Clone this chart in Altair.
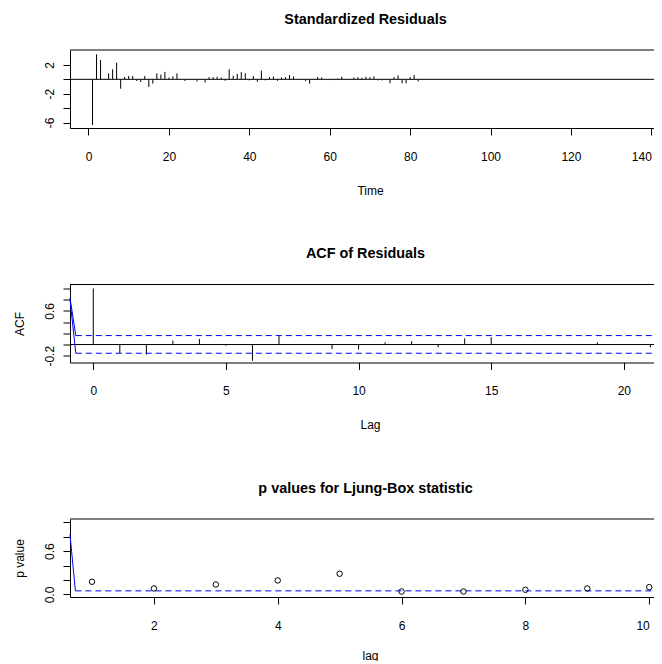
import altair as alt
import pandas as pd

FONT = "Liberation Sans"

# ---- data ----
time = list(range(1, 83))
resid = [-6.34, 3.47, 2.69, 0.05, 0.83, 1.39, 2.31, -1.30, 0.32, 0.46,
         0.46, -0.23, -0.37, 0.46, -1.06, -0.60, 0.83, 0.65, 1.02, 0.23,
         0.42, 0.83, 0.05, -0.23, 0.03, -0.05, -0.30, 0.04, -0.45, 0.30,
         0.30, 0.35, 0.25, -0.20, 1.40, 0.50, 0.75, 1.00, 0.85, -0.15,
         0.45, -0.35, 1.20, -0.15, 0.30, 0.40, -0.20, 0.25, 0.30, 0.60,
         0.40, 0.05, -0.05, -0.25, -0.60, 0.05, 0.30, 0.25, 0.02, -0.10,
         -0.10, 0.10, 0.35, 0.02, -0.03, 0.25, 0.30, 0.20, 0.35, 0.30,
         0.40, -0.15, -0.15, 0.03, -0.55, 0.30, 0.55, -0.55, -0.55, 0.30,
         0.60, -0.30]

acf_lag = list(range(0, 22))
acf_val = [1.0, -0.15, -0.18, 0.07, 0.10, -0.02, -0.29, 0.15, 0.005, -0.08,
           -0.09, 0.04, 0.06, -0.05, 0.11, 0.13, 0.003, 0.003, 0.01, 0.04,
           0.003, -0.05]
acf_ci = [0.16, -0.155]
acf_ci_start = -0.66
acf_stub_x = [-0.878, -0.66]
acf_stub_upper = [0.83, 0.16]
acf_stub_lower = [0.80, -0.155]

lb_lag = list(range(1, 11))
lb_p = [0.176, 0.083, 0.138, 0.194, 0.287, 0.041, 0.041, 0.065, 0.083, 0.101]
lb_level = [0.05]
lb_stub_x = [0.645, 0.732]
lb_stub_y = [0.83, 0.05]

# axes ticks / labels
x1_ticks = [0, 20, 40, 60, 80, 100, 120, 140]
y1_labeled = [-6, -2, 2]
y1_unlabeled = [-4, 0]
x2_ticks = [0, 5, 10, 15, 20]
y2_labeled = [-0.2, 0.6]
y2_unlabeled = [0.0, 0.2, 0.4, 0.8, 1.0]
x3_ticks = [2, 4, 6, 8, 10]
y3_labeled = [0.0, 0.6]
y3_unlabeled = [0.2, 0.4, 0.8, 1.0]

# domains (plot-region extents)
x1_dom = [-4.60, 142.4]
y1_dom = [-6.76, 4.07]
x2_dom = [-0.878, 21.4]
y2_dom = [-0.32, 1.07]
x3_dom = [0.645, 10.19]
y3_dom = [-0.035, 1.045]

W = 591
H = 78
BLUE = "blue"

common_axis = dict(domainColor="black", tickColor="black", labelColor="black",
                   titleColor="black", tickSize=7, labelFont=FONT, labelFontSize=12,
                   titleFont=FONT, titleFontSize=12, titleFontWeight="normal",
                   grid=False, domainWidth=1, tickWidth=1, labelOverlap=False)


def xaxis(values, title, ty=66, flush=False):
    return alt.Axis(values=values, title=title, labelAngle=0,
                    labelBaseline="alphabetic", labelPadding=25,
                    titleBaseline="alphabetic", titleY=ty, titleX=300,
                    titleAlign="center", format="d", labelFlush=flush,
                    **common_axis)


def yaxis(values, fmt, title):
    kw = dict(values=values, format=fmt, labelAngle=270, orient="left",
              labelAlign="center", labelBaseline="alphabetic", labelPadding=10,
              labelFlush=False, **common_axis)
    kw["labelExpr"] = "replace(datum.label, '\u2212', '-')"
    if title:
        kw.update(title=title, titleAngle=270, titleX=-47, titleY=H / 2,
                  titleBaseline="alphabetic", titleAlign="center")
    else:
        kw.update(title=None)
    return alt.Axis(**kw)


def tick_axis(values):
    return alt.Axis(values=values, labels=False, domain=False, ticks=True,
                    tickSize=7, tickColor="black", tickWidth=1, grid=False,
                    title=None, orient="left")


def ptitle(text):
    return alt.TitleParams(text, font=FONT, fontSize=14.4, fontWeight="bold",
                           color="black", baseline="alphabetic", offset=11.5,
                           anchor="middle", frame="group")


def sc(dom):
    return alt.Scale(domain=dom, nice=False, zero=False)


one = pd.DataFrame({"v": [0]})
top_rule = alt.Chart(one).mark_rule(color="black", strokeWidth=1).encode(y=alt.value(0))

# ---- panel 1: standardized residuals ----
d1 = pd.DataFrame({"t": time, "r": resid, "base": [0] * len(time)})
p1_bars = alt.Chart(d1).mark_rule(color="black", strokeWidth=1).encode(
    x=alt.X("t:Q", scale=sc(x1_dom), axis=xaxis(x1_ticks, "Time", flush=15)),
    y=alt.Y("r:Q", scale=sc(y1_dom), axis=yaxis(y1_labeled, "d", None)),
    y2="base:Q",
)
p1_zero = alt.Chart(one).mark_rule(color="black", strokeWidth=1).encode(
    y=alt.Y("v:Q", scale=sc(y1_dom), axis=tick_axis(y1_unlabeled)))
p1 = alt.layer(p1_bars, p1_zero, top_rule).resolve_axis(y="independent").properties(
    width=W, height=H, title=ptitle("Standardized Residuals"))

# ---- panel 2: ACF ----
d2 = pd.DataFrame({"lag": acf_lag, "acf": acf_val, "base": [0] * len(acf_lag)})
p2_bars = alt.Chart(d2).mark_rule(color="black", strokeWidth=1).encode(
    x=alt.X("lag:Q", scale=sc(x2_dom), axis=xaxis(x2_ticks, "Lag")),
    y=alt.Y("acf:Q", scale=sc(y2_dom), axis=yaxis(y2_labeled, ".1f", "ACF")),
    y2="base:Q",
)
p2_zero = alt.Chart(one).mark_rule(color="black", strokeWidth=1).encode(
    y=alt.Y("v:Q", scale=sc(y2_dom), axis=tick_axis(y2_unlabeled)))
d2ci = pd.DataFrame({"y": acf_ci, "x0": [acf_ci_start] * 2, "x1": [x2_dom[1]] * 2})
p2_ci = alt.Chart(d2ci).mark_rule(color=BLUE, strokeWidth=1, strokeDash=[6, 4]).encode(
    x="x0:Q", x2="x1:Q", y=alt.Y("y:Q", axis=None))
d2stub = pd.DataFrame({
    "x": acf_stub_x + acf_stub_x,
    "y": acf_stub_upper + acf_stub_lower,
    "s": ["u", "u", "l", "l"],
})
p2_stub = alt.Chart(d2stub).mark_line(color=BLUE, strokeWidth=1).encode(
    x="x:Q", y=alt.Y("y:Q", axis=None), detail="s:N")
p2 = alt.layer(p2_bars, p2_zero, p2_ci, p2_stub, top_rule).resolve_axis(
    y="independent").properties(width=W, height=H, title=ptitle("ACF of Residuals"))

# ---- panel 3: Ljung-Box p values ----
d3 = pd.DataFrame({"lag": lb_lag, "p": lb_p})
p3_pts = alt.Chart(d3).mark_point(shape="circle", filled=False, color="black",
                                  size=30, strokeWidth=1, opacity=1).encode(
    x=alt.X("lag:Q", scale=sc(x3_dom), axis=xaxis(x3_ticks, "lag", 62, flush=15)),
    y=alt.Y("p:Q", scale=sc(y3_dom), axis=yaxis(y3_labeled, ".1f", "p value")),
)
p3_ticks = alt.Chart(one).mark_rule(opacity=0).encode(
    y=alt.Y("v:Q", scale=sc(y3_dom), axis=tick_axis(y3_unlabeled)))
d3lev = pd.DataFrame({"y": lb_level, "x0": [lb_stub_x[1]], "x1": [x3_dom[1]]})
p3_lev = alt.Chart(d3lev).mark_rule(color=BLUE, strokeWidth=1, strokeOpacity=1,
                                    strokeDash=[6, 4]).encode(
    x="x0:Q", x2="x1:Q", y=alt.Y("y:Q", axis=None))
d3stub = pd.DataFrame({"x": lb_stub_x, "y": lb_stub_y})
p3_stub = alt.Chart(d3stub).mark_line(color=BLUE, strokeWidth=1).encode(
    x="x:Q", y=alt.Y("y:Q", axis=None))
p3 = alt.layer(p3_lev, p3_stub, p3_ticks, p3_pts, top_rule).resolve_axis(
    y="independent").properties(width=W, height=H,
                                title=ptitle("p values for Ljung-Box statistic"))

chart = alt.vconcat(p1, p2, p3, spacing=49.5).properties(
    padding={"left": 5, "top": 3, "right": -8, "bottom": 0},
    background="white",
).configure_view(strokeWidth=0)

chart.save("out.html", embed_options={"renderer": "svg", "actions": False})
